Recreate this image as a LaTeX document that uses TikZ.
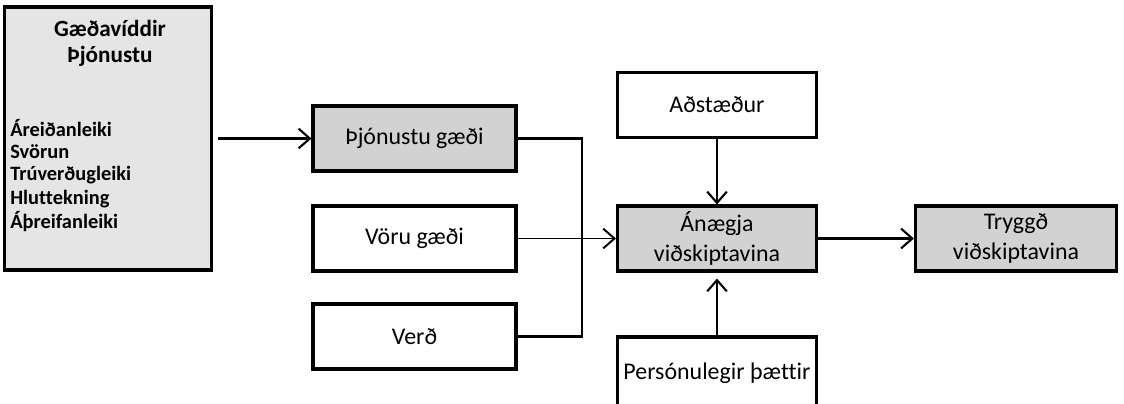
\documentclass[tikz,border=0pt]{standalone}
\usepackage{fontspec}
\setmainfont{Carlito}[Ligatures=NoCommon]
\usetikzlibrary{arrows.meta}

\tikzset{
  box/.style={draw, line width=2.2pt, minimum width=203\px, minimum height=65\px, align=center, font=\fontsize{17}{21.2}\selectfont},
  shaded/.style={box, fill=gray!35},
  arr/.style={line width=1.5pt, -{Straight Barb[length=8pt,width=14pt]}},
  lin/.style={line width=1.5pt}
}
\newlength{\px}
\setlength{\px}{0.025cm}

\begin{document}
\begin{tikzpicture}[x=0.025cm,y=-0.025cm]
\useasboundingbox (0,0) rectangle (1124,403);

% left box
\node[draw, line width=2.2pt, fill=gray!20, minimum width=207\px, minimum height=263\px] (dims) at (108,138.5) {};
\node[font=\bfseries\fontsize{16.5}{20}\selectfont] (t1) at (110,28) {Gæðavíddir};
\node[font=\bfseries\fontsize{16.5}{20}\selectfont] (t2) at (110,56) {Þjónustu};
\foreach \y/\t [count=\i] in {128/Áreiðanleiki, 152/Svörun, 175/Trúverðugleiki, 199/Hluttekning, 222/Áþreifanleiki}
  \node[anchor=west, inner sep=0pt, font=\bfseries\fontsize{14.5}{17}\selectfont] (d\i) at (10,\y) {\t};

% middle column
\node[shaded] (pj) at (414.5,138.5) {Þjónustu gæði};
\node[box] (vg) at (414.5,238.5) {Vöru gæði};
\node[box] (ve) at (414.5,336.5) {Verð};

% right part
\node[box, minimum width=199\px] (ad) at (717,105) {Aðstæður};
\node[shaded, minimum width=199\px] (an) at (717,238.5) {Ánægja\\viðskiptavina};
\node[box, minimum width=199\px, minimum height=73\px] (pe) at (717,373.5) {Persónulegir þættir};
\node[shaded, minimum width=201\px] (tr) at (1016,238.5) {Tryggð\\viðskiptavina};

\coordinate (knee) at (582,336.5);

\draw[arr, shorten <=5\px] (dims.east |- pj.west) -- (pj.west);
\draw[lin] (pj.east) -| (knee) -- (ve.east);
\draw[arr, line width=1.4pt] (vg.east) -- (an.west);
\draw[arr] (ad.south) -- (an.north);
\draw[arr] (pe.north) -- ([yshift=-6\px]an.south);
\draw[arr] (an.east) -- (tr.west);
\end{tikzpicture}
\end{document}
